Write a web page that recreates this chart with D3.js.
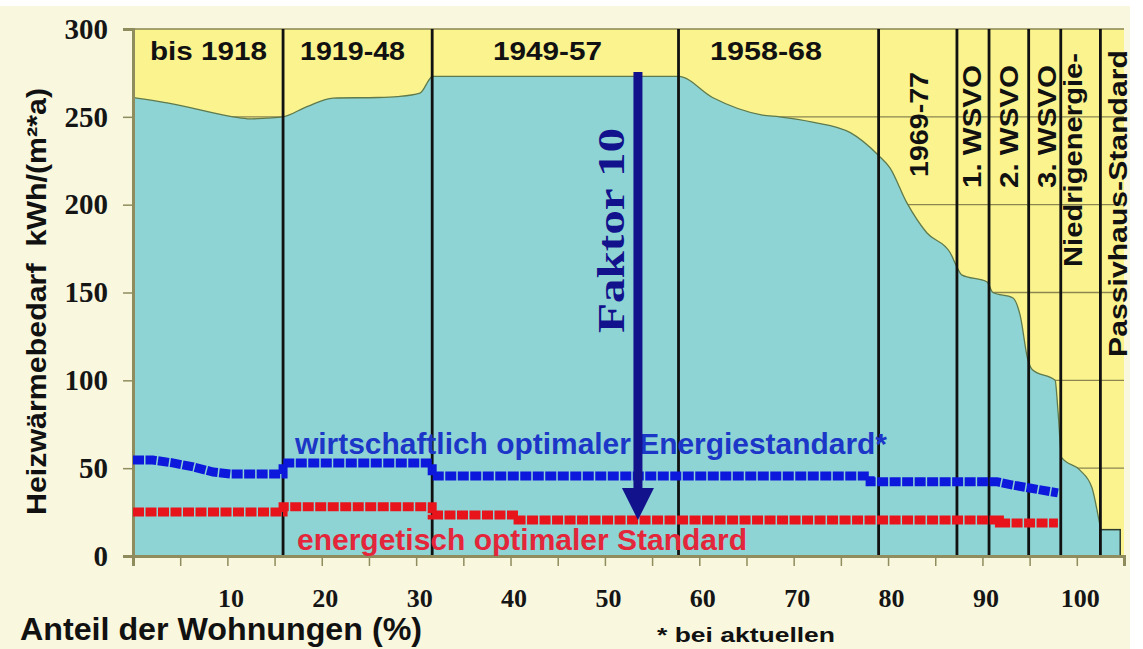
<!DOCTYPE html>
<html lang="de">
<head>
<meta charset="utf-8">
<title>Heizwärmebedarf</title>
<script src="https://d3js.org/d3.v7.min.js"></script>
<style>
  body { margin: 0; background: #fff; }
  text { font-family: "Liberation Sans", Arial, sans-serif; }
</style>
</head>
<body>
<div id="chart"></div>
<script>
// Heizwärmebedarf je Baualtersklasse über dem Anteil der Wohnungen
var shareX = [0, 0.4, 3.6, 7.1, 10.6, 12.4, 14.2, 15.9, 18.5, 21.2, 26, 28, 30.4, 31.5, 31.7,
              57.8, 61.4, 66.7, 68.5, 72.0, 76.0, 79.0, 80.2, 82.0, 84.1, 86.6, 87.3, 87.8,
              90.5, 91.1, 93.2, 94.0, 94.8, 95.3, 97.7, 98.0, 98.4, 100.3, 101.6, 102.2, 102.5];
var demand = [261, 260.7, 258, 254, 250, 248.8, 249.3, 250, 256, 260.7, 261, 261.5, 263.5, 272, 273,
              273, 261, 251, 250, 247, 241, 228, 221, 201, 184, 172.5, 164.5, 160,
              156, 150, 147, 137, 112, 106, 100, 83, 56, 49, 39, 24.5, 16];
// Passivhaus-Stufe
var passiveX = [102.5, 104.6];
var passiveValue = 15;

// wirtschaftlich optimaler Energiestandard
var econX = [0, 2.1, 4.2, 6.4, 8.5, 10.3, 15.9, 15.9, 31.7, 31.7, 78.1, 78.1, 91.5, 93.2, 95.0, 98.0];
var econY = [54.6, 54.6, 53, 50.7, 47.8, 46.7, 46.7, 52.9, 52.9, 45.5, 45.5, 42.3, 42.3, 40.4, 38.7, 35.9];
// energetisch optimaler Standard
var enerX = [0, 15.9, 15.9, 31.7, 31.7, 40.8, 40.8, 91.8, 91.8, 98.0];
var enerY = [25, 25, 28, 28, 23.3, 23.3, 20.5, 20.5, 18.8, 18.8];

// Grenzen der Baualtersklassen
var eraBounds = [15.9, 31.7, 57.8, 79.0, 87.3, 90.7, 94.9, 98.3, 102.5];
var topEras = ["bis 1918", "1919-48", "1949-57", "1958-68"];
var sideEras = ["1969-77", "1. WSVO", "2. WSVO", "3. WSVO", "Niedrigenergie-", "Passivhaus-Standard"];

var yTicks = [0, 50, 100, 150, 200, 250, 300];
var xTicks = [0, 5, 10, 15, 20, 25, 30, 35, 40, 45, 50, 55, 60, 65, 70, 75, 80, 85, 90, 95, 100, 105];
var xTickLabels = [10, 20, 30, 40, 50, 60, 70, 80, 90, 100];

// Faktor-10-Pfeil
var arrowX = 53.5, arrowFrom = 275.5, arrowHead = 38.7, arrowTo = 20.5;

var width = 1143, height = 649;
var svg = d3.select("#chart").append("svg")
    .attr("width", width)
    .attr("height", height);

var x = d3.scaleLinear().domain([0, 105]).range([133, 1124]);
var y = d3.scaleLinear().domain([0, 300]).range([556, 29]);

var olive = "#8f8c5e";
var teal = "#8fd4d4";

svg.append("rect").attr("x", 0).attr("y", 6).attr("width", 1130).attr("height", height - 6)
    .attr("fill", "#f9f7de");

// gelber Hintergrund des Diagramms
svg.append("rect")
    .attr("x", x(0)).attr("y", y(300))
    .attr("width", x(105) - x(0)).attr("height", y(0) - y(300))
    .attr("fill", "#fbf38e");

// Gitterlinien
svg.append("g").selectAll("line")
    .data(yTicks.filter(function(d) { return d > 0; }))
    .enter().append("line")
    .attr("x1", x(0)).attr("x2", x(105))
    .attr("y1", function(d) { return y(d); })
    .attr("y2", function(d) { return y(d); })
    .attr("stroke", "#8a8650").attr("stroke-width", 1.3);

// Flaeche Heizwaermebedarf
var pts = shareX.map(function(d, i) { return [d, demand[i]]; });
var area = d3.area()
    .curve(d3.curveMonotoneX)
    .x(function(d) { return x(d[0]); })
    .y0(y(0))
    .y1(function(d) { return y(d[1]); });
svg.append("path").datum(pts)
    .attr("d", area)
    .attr("fill", teal);
svg.append("path").datum(pts)
    .attr("d", d3.line().curve(d3.curveMonotoneX)
      .x(function(d) { return x(d[0]); }).y(function(d) { return y(d[1]); }))
    .attr("fill", "none").attr("stroke", "#5f7a4c").attr("stroke-width", 1.3);
// Passivhaus-Balken
svg.append("rect")
    .attr("x", x(passiveX[0])).attr("y", y(passiveValue))
    .attr("width", x(passiveX[1]) - x(passiveX[0]))
    .attr("height", y(0) - y(passiveValue))
    .attr("fill", teal).attr("stroke", "#2d3b2c").attr("stroke-width", 1.5);

// Linien der Baualtersklassen
svg.append("g").selectAll("line")
    .data(eraBounds)
    .enter().append("line")
    .attr("x1", function(d) { return x(d); })
    .attr("x2", function(d) { return x(d); })
    .attr("y1", y(300)).attr("y2", y(0) + 1)
    .attr("stroke", "#111").attr("stroke-width", 2.8);

// Achsen
var yAxis = svg.append("g")
    .attr("transform", "translate(" + x(0) + ",0)")
    .call(d3.axisLeft(y).tickValues(yTicks).tickSize(10).tickPadding(15));
var xAxis = svg.append("g")
    .attr("transform", "translate(0," + y(0) + ")")
    .call(d3.axisBottom(x).tickValues(xTicks).tickSize(10)
      .tickFormat(function(d) { return xTickLabels.indexOf(d) >= 0 ? d : ""; }));
[yAxis, xAxis].forEach(function(a) {
  a.select(".domain").attr("stroke", olive).attr("stroke-width", 3);
  a.selectAll(".tick line").attr("stroke", olive).attr("stroke-width", 1.5);
  a.selectAll("text")
    .style("font-family", "'Liberation Serif', 'Times New Roman', serif")
    .style("font-weight", "bold")
    .attr("fill", "#151515");
});
yAxis.selectAll("text").style("font-size", "29px");
xAxis.selectAll("text").style("font-size", "26px")
    .attr("y", 51).attr("dy", 0).attr("dx", 3);

// Linien der Standards
var line = d3.line()
    .x(function(d) { return x(d[0]); })
    .y(function(d) { return y(d[1]); });
svg.append("path")
    .datum(enerX.map(function(d, i) { return [d, enerY[i]]; }))
    .attr("d", line)
    .attr("fill", "none").attr("stroke", "#e8141c")
    .attr("stroke-width", 9).attr("stroke-dasharray", "11,1.5");
svg.append("path")
    .datum(econX.map(function(d, i) { return [d, econY[i]]; }))
    .attr("d", line)
    .attr("fill", "none").attr("stroke", "#0c18dc")
    .attr("stroke-width", 9).attr("stroke-dasharray", "11,1.5");

// Beschriftungen der Epochen oben
var topX = [208.5, 352.5, 547.5, 766], topW = [117, 105, 109, 112];
svg.append("g").selectAll("text")
    .data(topEras)
    .enter().append("text")
    .attr("x", function(d, i) { return topX[i]; })
    .attr("y", 60)
    .attr("text-anchor", "middle")
    .attr("textLength", function(d, i) { return topW[i]; })
    .attr("lengthAdjust", "spacingAndGlyphs")
    .style("font-size", "25px").style("font-weight", "bold")
    .attr("fill", "#111")
    .text(function(d) { return d; });

// senkrechte Beschriftungen
var sideBx = [928, 981, 1018, 1056, 1082, 1127];
var sideCy = [124.5, 126.5, 126.5, 126.5, 160, 203.5];
var sideW = [105, 123, 123, 123, 214, 307];
svg.append("g").selectAll("text")
    .data(sideEras)
    .enter().append("text")
    .attr("transform", function(d, i) { return "translate(" + sideBx[i] + "," + sideCy[i] + ") rotate(-90)"; })
    .attr("text-anchor", "middle")
    .attr("textLength", function(d, i) { return sideW[i]; })
    .attr("lengthAdjust", "spacingAndGlyphs")
    .style("font-size", "25px").style("font-weight", "bold")
    .attr("fill", "#111")
    .text(function(d) { return d; });

// Texte der Standards
svg.append("text")
    .attr("x", 295).attr("y", 454)
    .attr("textLength", 592).attr("lengthAdjust", "spacingAndGlyphs")
    .style("font-size", "29px").style("font-weight", "bold")
    .attr("fill", "#1c36c8")
    .text("wirtschaftlich optimaler Energiestandard*");
svg.append("text")
    .attr("x", 297).attr("y", 550)
    .attr("textLength", 450).attr("lengthAdjust", "spacingAndGlyphs")
    .style("font-size", "29px").style("font-weight", "bold")
    .attr("fill", "#e3263a")
    .text("energetisch optimaler Standard");

// Pfeil Faktor 10
var navy = "#12128c";
svg.append("line")
    .attr("x1", x(arrowX)).attr("x2", x(arrowX))
    .attr("y1", y(arrowFrom)).attr("y2", y(arrowHead) + 1)
    .attr("stroke", navy).attr("stroke-width", 9);
svg.append("path")
    .attr("d", "M" + (x(arrowX) - 16) + "," + y(arrowHead) +
               "L" + (x(arrowX) + 16) + "," + y(arrowHead) +
               "L" + x(arrowX) + "," + y(arrowTo) + "Z")
    .attr("fill", navy);
svg.append("text")
    .attr("transform", "translate(624,230.5) rotate(-90)")
    .attr("text-anchor", "middle")
    .attr("textLength", 205).attr("lengthAdjust", "spacingAndGlyphs")
    .style("font-family", "'Liberation Serif', 'Times New Roman', serif")
    .style("font-size", "38px").style("font-weight", "bold")
    .attr("fill", navy)
    .text("Faktor 10");

// Achsentitel
svg.append("text")
    .attr("transform", "translate(46,301.5) rotate(-90)")
    .attr("text-anchor", "middle")
    .attr("textLength", 427).attr("lengthAdjust", "spacingAndGlyphs")
    .style("font-size", "28px").style("font-weight", "bold").style("white-space", "pre")
    .attr("fill", "#111")
    .text("Heizwärmebedarf  kWh/(m²*a)");
svg.append("text")
    .attr("x", 20).attr("y", 640)
    .attr("textLength", 402).attr("lengthAdjust", "spacingAndGlyphs")
    .style("font-size", "32px").style("font-weight", "bold")
    .attr("fill", "#111")
    .text("Anteil der Wohnungen (%)");
svg.append("text")
    .attr("x", 657).attr("y", 642)
    .attr("textLength", 178).attr("lengthAdjust", "spacingAndGlyphs")
    .style("font-size", "20px").style("font-weight", "bold")
    .attr("fill", "#111")
    .text("* bei aktuellen");
</script>
</body>
</html>
